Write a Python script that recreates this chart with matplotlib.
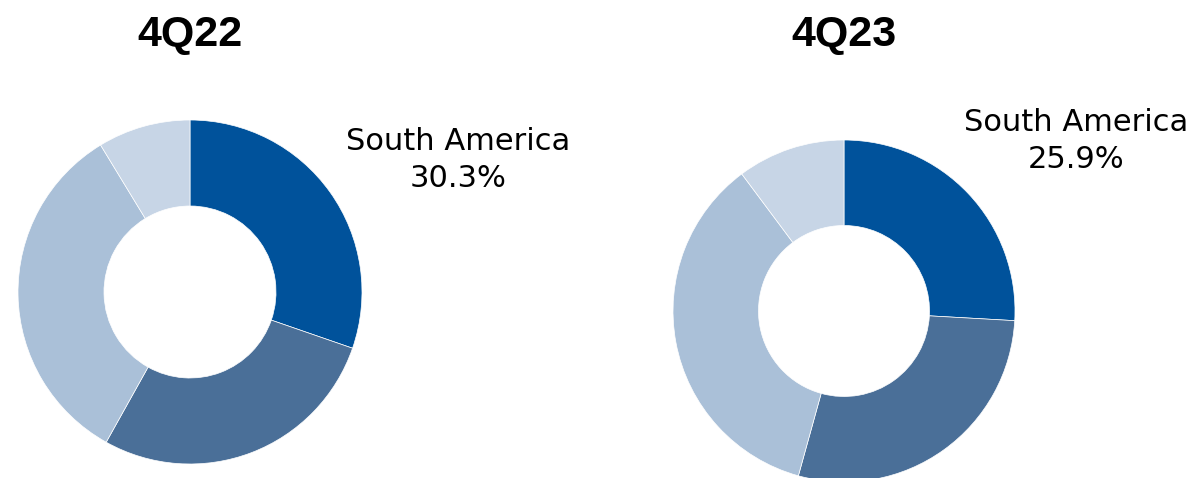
import matplotlib.pyplot as plt

# Regional share of volume, clockwise from 12 o'clock (South America first)
periods = ["4Q22", "4Q23"]
shares_4q22 = [30.3, 27.8, 33.2, 8.7]
shares_4q23 = [25.9, 28.4, 35.5, 10.2]
lead_region = "South America"

colors = ["#00529B", "#4A6F98", "#AAC0D8", "#C7D5E6"]

W, H = 1195, 478
fig = plt.figure(figsize=(W / 100, H / 100), dpi=100)


def donut(center, radius, shares, title, label_xy):
    cx, cy = center
    ax = fig.add_axes([(cx - radius) / W, (H - cy - radius) / H,
                       2 * radius / W, 2 * radius / H])
    ax.pie(shares, colors=colors, startangle=90, counterclock=False,
           radius=1.0, wedgeprops=dict(width=0.5, edgecolor="white", linewidth=0.5))
    ax.set_xlim(-1, 1)
    ax.set_ylim(-1, 1)
    ax.set_aspect("equal")
    ax.axis("off")

    fig.text(cx / W, 1 - 35 / H, title, ha="center", va="center",
             fontsize=31, fontweight="bold", family="Liberation Sans")
    lx, ly = label_xy
    fig.text(lx / W, 1 - ly / H, f"{lead_region}\n{shares[0]:.1f}%",
             ha="center", va="center", multialignment="center",
             fontsize=22, family="DejaVu Sans", color="black", linespacing=1.35)


donut((190, 292), 172, shares_4q22, periods[0], (458, 160))
donut((844, 311), 171, shares_4q23, periods[1], (1076, 141))

fig.savefig("out.png", dpi=100)
